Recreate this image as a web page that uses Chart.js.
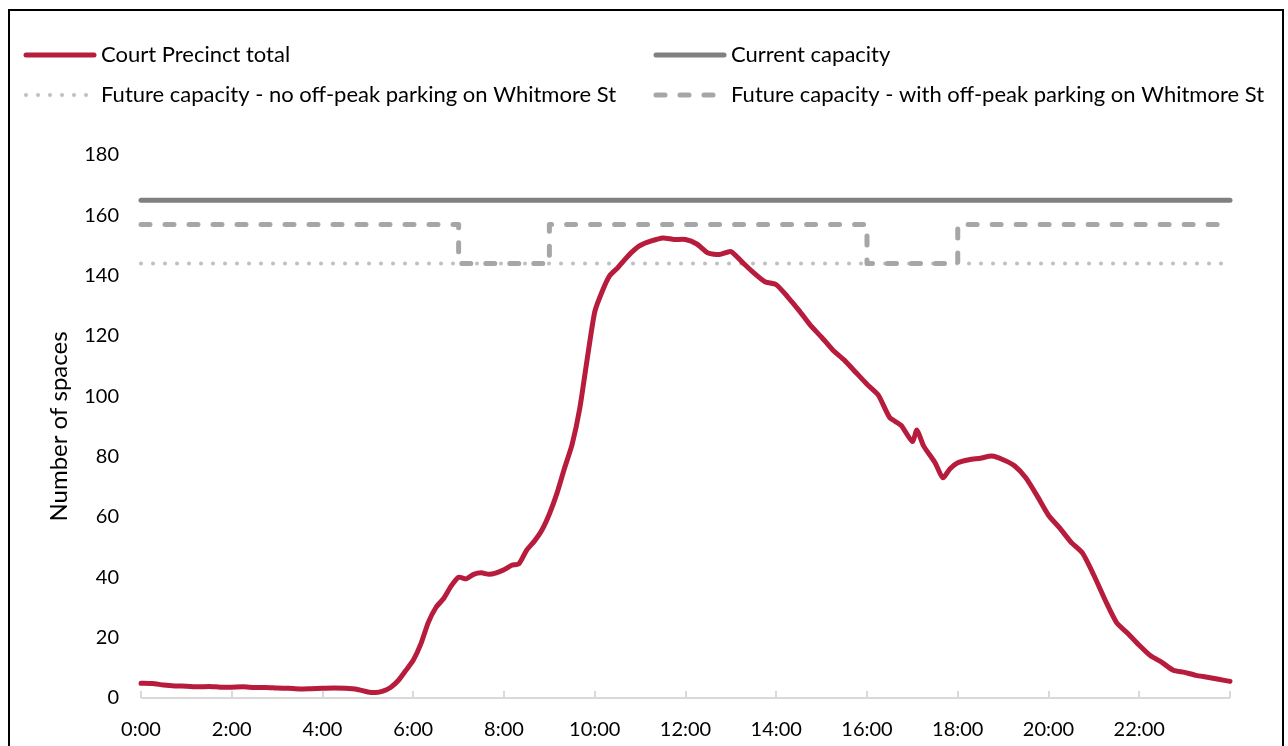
<!DOCTYPE html>
<html>
<head>
<meta charset="utf-8">
<script src="https://cdn.jsdelivr.net/npm/chart.js@4.4.1/dist/chart.umd.min.js"></script>
<style>
  html, body { margin: 0; padding: 0; background: #fff; }
  #frame {
    position: absolute; left: 8px; top: 9px; width: 1276px; height: 760px;
    border: 2px solid #000; box-sizing: border-box;
  }
  #wrap { position: absolute; left: 0; top: 0; width: 1288px; height: 746px; }
</style>
</head>
<body>
<div id="frame"></div>
<div id="wrap"><canvas id="Chart1" width="1288" height="746"></canvas></div>
<script>
// time of day, hours
const hours = [
  0, 0.25, 0.5, 0.75, 1, 1.25, 1.5, 1.75, 2, 2.25, 2.5, 2.75, 3, 3.25, 3.5, 3.75,
  4, 4.25, 4.5, 4.75, 5, 5.17, 5.33, 5.5, 5.67, 5.83, 6, 6.17, 6.33, 6.5, 6.67, 6.83,
  7, 7.17, 7.33, 7.5, 7.67, 7.83, 8, 8.17, 8.33, 8.5, 8.67, 8.83, 9, 9.17, 9.33, 9.5,
  9.67, 9.83, 10, 10.17, 10.33, 10.5, 10.67, 10.83, 11, 11.25, 11.5, 11.75, 12, 12.25,
  12.5, 12.75, 13, 13.25, 13.5, 13.75, 14, 14.25, 14.5, 14.75, 15, 15.25, 15.5, 15.75,
  16, 16.25, 16.5, 16.75, 17, 17.1, 17.25, 17.5, 17.67, 17.83, 18, 18.25, 18.5, 18.75,
  19, 19.25, 19.5, 19.75, 20, 20.25, 20.5, 20.75, 21, 21.25, 21.5, 21.75, 22, 22.25,
  22.5, 22.75, 23, 23.25, 23.5, 23.75, 24
];
// Court Precinct total
const precinct = [
  4.9, 4.8, 4.3, 4.0, 3.9, 3.7, 3.8, 3.6, 3.6, 3.7, 3.5, 3.5, 3.3, 3.2, 3.0, 3.1,
  3.2, 3.3, 3.2, 2.9, 2.0, 1.8, 2.3, 3.5, 5.8, 9, 12.5, 18, 25, 30, 33, 37,
  40, 39.5, 41, 41.5, 41, 41.5, 42.5, 44, 44.5, 49, 52, 55.5, 61, 68, 76, 84,
  96, 112, 128, 135, 140, 142.5, 145.5, 148, 150, 151.5, 152.5, 152, 152, 150.5,
  147.5, 147, 148, 144.5, 141, 138, 137, 133, 128.5, 123.6, 119.6, 115.3, 112, 108,
  104, 100.4, 93, 90.4, 85, 88.8, 83.5, 78, 73, 76, 78, 79, 79.5, 80.2,
  79, 77, 73, 67, 60.6, 56.3, 51.6, 48, 40.7, 32.4, 25, 21.4, 17.5, 14,
  11.8, 9.2, 8.5, 7.5, 6.9, 6.2, 5.5
];

const capacityHours = [0, 7, 9, 16, 18, 24];
const currentCapacity = [165, 165, 165, 165, 165, 165];
const futureNoOffPeak = [144, 144, 144, 144, 144, 144];
const futureWithOffPeak = [157, 144, 157, 144, 157, 157];

const yTicks = [0, 20, 40, 60, 80, 100, 120, 140, 160, 180];
const xTicks = [0, 2, 4, 6, 8, 10, 12, 14, 16, 18, 20, 22, 24];

const FONT = 'Lato, "Noto Sans", sans-serif';

const toPoints = (xs, ys) => xs.map((x, i) => ({ x: x, y: ys[i] }));

// small upward tick marks on the x axis
const tickMarks = {
  id: 'tickMarks',
  beforeDatasetsDraw(chart) {
    const ctx = chart.ctx;
    const xs = chart.scales.x;
    const yb = chart.chartArea.bottom;
    ctx.save();
    ctx.strokeStyle = '#d9d9d9';
    ctx.lineWidth = 2;
    ctx.beginPath();
    ctx.moveTo(xs.left, yb);
    ctx.lineTo(xs.right, yb);
    for (const t of xTicks) {
      const px = Math.round(xs.getPixelForValue(t));
      ctx.moveTo(px, yb);
      ctx.lineTo(px, yb - 7);
    }
    ctx.stroke();
    ctx.restore();
  }
};

// two-column legend
const legendBox = {
  id: 'legendBox',
  afterDraw(chart) {
    const ctx = chart.ctx;
    const places = [[24, 55], [654, 55], [24, 95], [654, 95]];
    ctx.save();
    chart.data.datasets.forEach((ds, i) => {
      const [x, y] = places[i];
      ctx.beginPath();
      ctx.strokeStyle = ds.borderColor;
      ctx.lineWidth = ds.borderWidth;
      ctx.lineCap = 'round';
      ctx.setLineDash(ds.borderDash || []);
      ctx.moveTo(x + 2, y);
      ctx.lineTo(x + 70, y);
      ctx.stroke();
      ctx.setLineDash([]);
      ctx.fillStyle = '#000';
      ctx.font = '22px ' + FONT;
      ctx.textBaseline = 'middle';
      ctx.fillText(ds.label, x + 77, y);
    });
    ctx.restore();
  }
};

new Chart(document.getElementById('Chart1'), {
  type: 'line',
  data: {
    datasets: [
      {
        label: 'Court Precinct total',
        data: toPoints(hours, precinct),
        borderColor: '#b71c3c',
        borderWidth: 5,
        borderCapStyle: 'round',
        borderJoinStyle: 'round',
        tension: 0.2,
        clip: false,
        order: 0
      },
      {
        label: 'Current capacity',
        data: toPoints(capacityHours, currentCapacity),
        borderColor: '#808080',
        borderWidth: 5,
        borderCapStyle: 'round',
        clip: false,
        order: 1
      },
      {
        label: 'Future capacity - no off-peak parking on Whitmore St',
        data: toPoints(capacityHours, futureNoOffPeak),
        borderColor: '#bfbfbf',
        borderWidth: 4,
        borderDash: [0, 12],
        borderCapStyle: 'round',
        clip: false,
        order: 3
      },
      {
        label: 'Future capacity - with off-peak parking on Whitmore St',
        data: toPoints(capacityHours, futureWithOffPeak),
        borderColor: '#a6a6a6',
        borderWidth: 5,
        borderDash: [9, 15],
        borderCapStyle: 'round',
        borderJoinStyle: 'round',
        stepped: 'before',
        clip: false,
        order: 2
      }
    ]
  },
  options: {
    responsive: false,
    animation: false,
    layout: { padding: { top: 155, right: 58, left: 40, bottom: 0 } },
    elements: { point: { radius: 0 } },
    plugins: {
      legend: { display: false },
      tooltip: { enabled: false }
    },
    scales: {
      x: {
        type: 'linear',
        min: 0,
        max: 24,
        afterBuildTicks(scale) { scale.ticks = xTicks.map(v => ({ value: v })); },
        afterFit(scale) { scale.height = 48; },
        grid: { display: false, drawTicks: false },
        border: { display: false },
        ticks: {
          autoSkip: false,
          maxRotation: 0,
          padding: 20,
          color: '#000',
          font: { size: 20, family: FONT },
          callback: v => (v === 24 ? '' : v + ':00')
        }
      },
      y: {
        min: 0,
        max: 180,
        afterBuildTicks(scale) { scale.ticks = yTicks.map(v => ({ value: v })); },
        afterFit(scale) { scale.width = 101; },
        grid: { display: false, drawTicks: false },
        border: { display: false },
        ticks: {
          padding: 22,
          color: '#000',
          font: { size: 20, family: FONT }
        },
        title: {
          display: true,
          text: 'Number of spaces',
          color: '#000',
          font: { size: 24, family: FONT },
          padding: { top: 5, bottom: 0 }
        }
      }
    }
  },
  plugins: [tickMarks, legendBox]
});
</script>
</body>
</html>
